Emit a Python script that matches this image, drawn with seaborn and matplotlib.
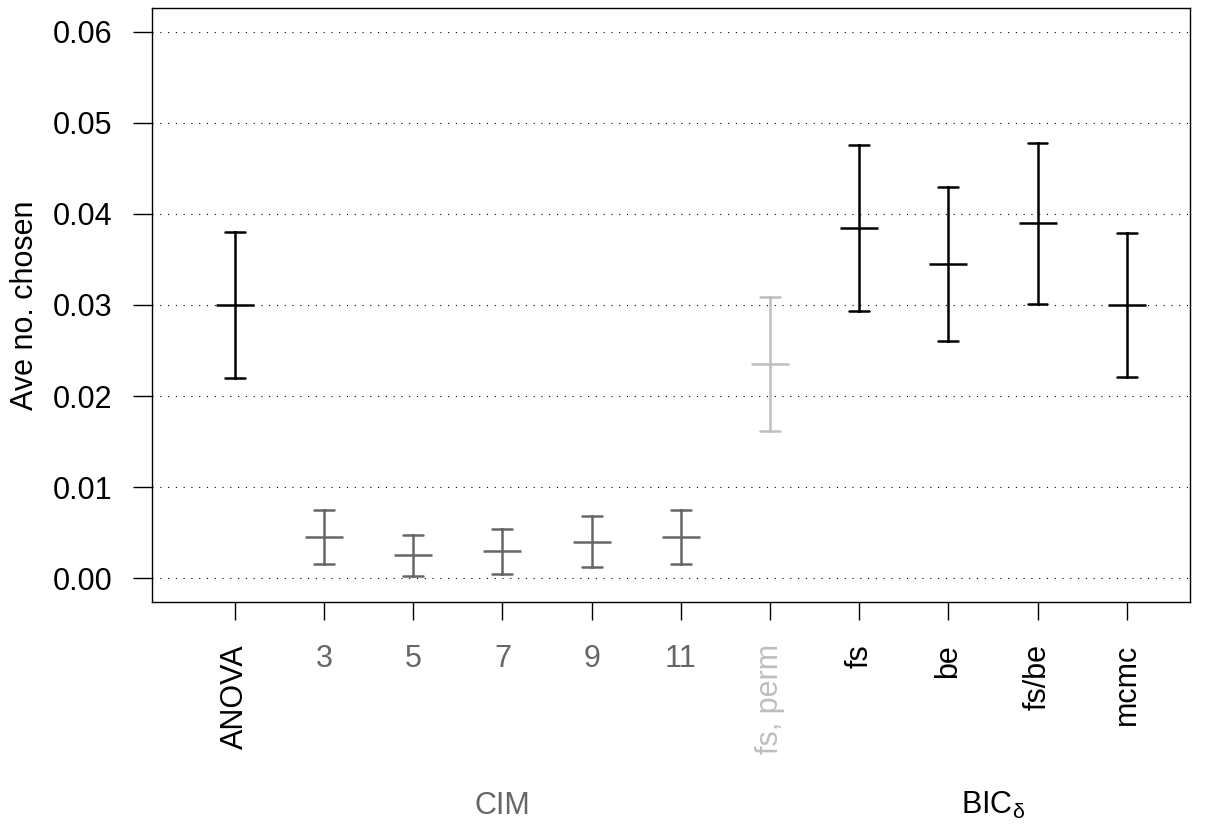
import numpy as np
import pandas as pd
import matplotlib
matplotlib.use("Agg")
import matplotlib.pyplot as plt
import matplotlib.transforms as mtransforms
import seaborn as sns

# ---- data ----
methods = ["ANOVA", "3", "5", "7", "9", "11", "fs, perm", "fs", "be", "fs/be", "mcmc"]
groups = ["anova", "cim", "cim", "cim", "cim", "cim", "perm", "bic", "bic", "bic", "bic"]
center = [0.0300, 0.0045, 0.0025, 0.0030, 0.0040, 0.0045, 0.0235, 0.0385, 0.0345, 0.0390, 0.0300]
lower = [0.0220, 0.0015, 0.0002, 0.0005, 0.0012, 0.0015, 0.0162, 0.0293, 0.0260, 0.0301, 0.0221]
upper = [0.0380, 0.0075, 0.0047, 0.0054, 0.0068, 0.0075, 0.0309, 0.0476, 0.0430, 0.0478, 0.0379]
rotated = [True, False, False, False, False, False, True, True, True, True, True]
yticks = [0.00, 0.01, 0.02, 0.03, 0.04, 0.05, 0.06]

palette = {"anova": "black", "cim": "#666666", "perm": "#BEBEBE", "bic": "black"}

rows = []
for m, g, lo, c, hi in zip(methods, groups, lower, center, upper):
    for v in (lo, c, hi):
        rows.append({"method": m, "group": g, "value": v})
df = pd.DataFrame(rows)

sns.set_theme(style="white")
plt.rcParams["font.family"] = ["Liberation Sans", "DejaVu Sans"]
plt.rcParams["mathtext.fontset"] = "custom"
plt.rcParams["mathtext.rm"] = "Liberation Sans"
plt.rcParams["mathtext.it"] = "Liberation Sans"
for k in ("text.color", "axes.labelcolor", "xtick.color", "ytick.color", "axes.edgecolor"):
    plt.rcParams[k] = "black"
FS = 22

fig = plt.figure(figsize=(12.08, 8.27), dpi=100)
ax = fig.add_axes([152 / 1208, (827 - 602) / 827, (1190 - 152) / 1208, (602 - 8) / 827])

sns.pointplot(
    data=df, x="method", y="value", hue="group", order=methods,
    palette=palette, estimator="median",
    errorbar=lambda v: (v.min(), v.max()),
    dodge=False, capsize=0.224, marker="_", linestyle="none",
    markersize=27.4, markeredgewidth=1.8,
    err_kws={"linewidth": 1.8},
    legend=False, ax=ax,
)

ax.set_xlim(-0.93, 10.71)
ax.set_ylim(-0.00263, 0.06263)
ax.set_yticks(yticks)
ax.set_yticklabels([f"{t:.2f}" for t in yticks], fontsize=FS, color="black")
ax.set_axisbelow(True)
ax.yaxis.grid(True, linestyle=(0, (1, 6)), color="black", linewidth=0.8)
ax.xaxis.grid(False)

for s in ax.spines.values():
    s.set_visible(True)
    s.set_color("black")
    s.set_linewidth(1.0)

ax.tick_params(axis="x", direction="out", length=13.2, width=1, color="black",
               pad=17, labelsize=FS, bottom=True)
ax.tick_params(axis="y", direction="out", length=13.7, width=1, color="black",
               pad=15, labelsize=FS, left=True, labelcolor="black")

ax.set_xticks(range(len(methods)))
ax.set_xticklabels(methods, fontsize=FS)
for lab, g, r in zip(ax.get_xticklabels(), groups, rotated):
    lab.set_color(palette[g])
    if r:
        lab.set_rotation(90)
    lab.set_va("top")
    lab.set_ha("center")

ax.set_xlabel("")
ax.set_ylabel("Ave no. chosen", fontsize=FS, color="black")
ax.yaxis.label.set_verticalalignment("center")
ax.yaxis.set_label_coords((25 - 152) / 1038, 0.5)

trans = mtransforms.blended_transform_factory(ax.transData, fig.transFigure)
ax.text(3.0, 13 / 827, "CIM", transform=trans, ha="center", va="baseline",
        fontsize=FS, color="#666666")
ax.text(8.5, 13 / 827, r"BIC$_{\delta}$", transform=trans, ha="center", va="baseline",
        fontsize=FS, color="black")

fig.savefig("out.png", dpi=100)
